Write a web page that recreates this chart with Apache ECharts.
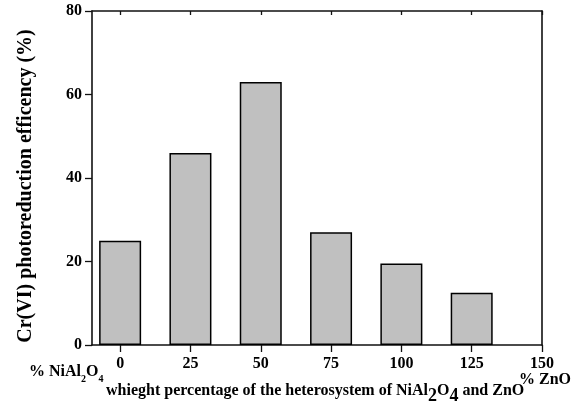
<!DOCTYPE html>
<html>
<head>
<meta charset="utf-8">
<script src="https://cdn.jsdelivr.net/npm/echarts@6/dist/echarts.min.js"></script>
<style>
  html, body { margin: 0; padding: 0; background: #fff; }
  #chart { width: 576px; height: 410px; }
</style>
</head>
<body>
<div id="chart"></div>
<script>
// NiAl2O4 / ZnO weight percentage and Cr(VI) photoreduction efficiency
const compositions = [0, 25, 50, 75, 100, 125];
const efficiency = [25, 46, 63, 27, 19.5, 12.5];
const xTicks = [0, 25, 50, 75, 100, 125, 150];
const yTicks = [0, 20, 40, 60, 80];

const FONT = '"Liberation Serif", "Times New Roman", serif';
const chart = echarts.init(document.getElementById('chart'), null, { renderer: 'canvas' });

const axisLine = { show: true, onZero: false, lineStyle: { color: '#111', width: 1.6 } };
const tickStyle = { color: '#111', width: 1.3 };

chart.setOption({
  backgroundColor: '#fff',
  animation: false,
  grid: { left: 92, right: 34, top: 11, bottom: 65 },
  xAxis: [
    {
      type: 'value', min: -10, max: 150,
      position: 'bottom',
      axisLine: axisLine,
      axisTick: { show: true, inside: false, length: 7, lineStyle: tickStyle, customValues: xTicks },
      axisLabel: { color: '#000', fontFamily: FONT, fontWeight: 'bold', fontSize: 16, margin: 11,
        customValues: xTicks },
      splitLine: { show: false }
    },
    {
      type: 'value', min: -10, max: 150,
      position: 'top',
      axisLine: axisLine,
      axisTick: { show: true, inside: true, length: 4, lineStyle: tickStyle, customValues: xTicks },
      axisLabel: { show: false },
      splitLine: { show: false }
    }
  ],
  yAxis: [
    {
      type: 'value', min: 0, max: 80,
      position: 'left',
      axisLine: axisLine,
      axisTick: { show: true, inside: false, length: 7, lineStyle: tickStyle, customValues: yTicks },
      axisLabel: { color: '#000', fontFamily: FONT, fontWeight: 'bold', fontSize: 16, margin: 10,
        customValues: yTicks },
      splitLine: { show: false }
    },
    {
      type: 'value', min: 0, max: 80,
      position: 'right',
      axisLine: axisLine,
      axisTick: { show: false },
      axisLabel: { show: false },
      splitLine: { show: false }
    }
  ],
  series: [
    {
      type: 'bar',
      xAxisIndex: 0, yAxisIndex: 0,
      barWidth: 42,
      data: compositions.map((c, i) => [c, efficiency[i]]),
      itemStyle: { color: '#c0c0c0', borderColor: '#000', borderWidth: 1.5 }
    }
  ],
  graphic: [
    {
      // y-axis title, rotated to read bottom-to-top
      type: 'text', x: 26, y: 186, rotation: Math.PI / 2,
      style: {
        text: 'Cr(VI) photoreduction efficency (%)',
        font: 'bold 20px ' + FONT, fill: '#000',
        align: 'center', verticalAlign: 'middle'
      }
    },
    {
      type: 'text', left: 29, top: 364,
      style: {
        text: '{b|% NiAl}{s|2}{b|O}{s|4}',
        rich: {
          b: { fontFamily: FONT, fontWeight: 'bold', fontSize: 16, fill: '#000', verticalAlign: 'bottom', lineHeight: 18 },
          s: { fontFamily: FONT, fontWeight: 'bold', fontSize: 10, fill: '#000', verticalAlign: 'bottom', lineHeight: 8, padding: [0, 0, -4, 0] }
        }
      }
    },
    {
      type: 'text', left: 519, top: 372,
      style: { text: '% ZnO', font: 'bold 16px ' + FONT, fill: '#000' }
    },
    {
      type: 'text', left: 106, top: 383,
      style: {
        text: '{b|whieght percentage of the heterosystem of NiAl}{s|2}{b|O}{s|4}{b| and ZnO}',
        rich: {
          b: { fontFamily: FONT, fontWeight: 'bold', fontSize: 16, fill: '#000', verticalAlign: 'bottom', lineHeight: 18 },
          s: { fontFamily: FONT, fontWeight: 'bold', fontSize: 18, fill: '#000', verticalAlign: 'bottom', lineHeight: 12, padding: [0, 0, -6, 0] }
        }
      }
    }
  ]
});
</script>
</body>
</html>
